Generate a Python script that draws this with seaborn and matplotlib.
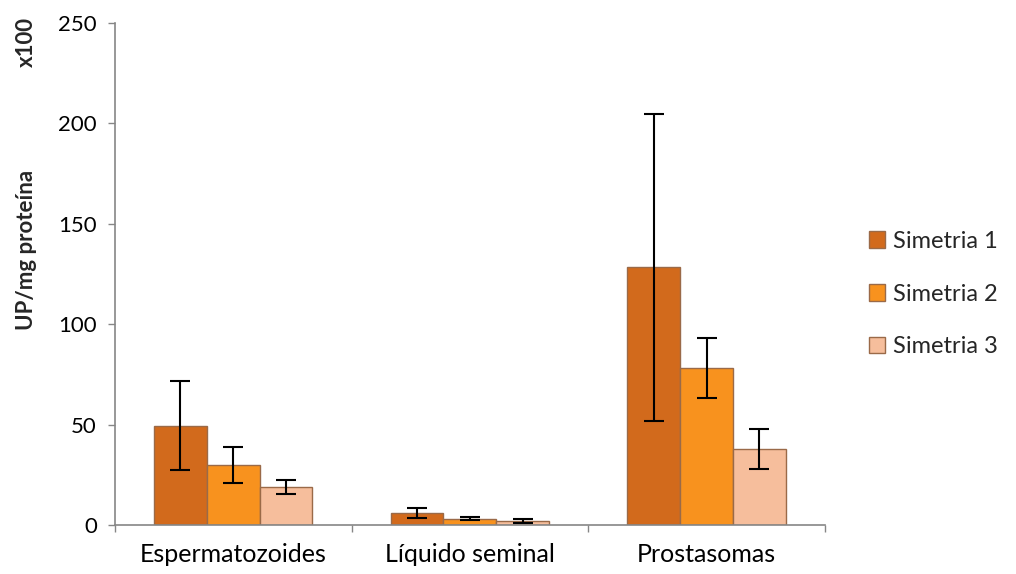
import pandas as pd
import matplotlib.pyplot as plt
import seaborn as sns

categories = ['Espermatozoides', 'Líquido seminal', 'Prostasomas']
series = ['Simetria 1', 'Simetria 2', 'Simetria 3']
means_s1 = [49.5, 6.0, 128.3]
means_s2 = [30.0, 3.2, 78.0]
means_s3 = [19.0, 2.0, 38.0]
err_s1 = [22.0, 2.7, 76.5]
err_s2 = [9.0, 0.7, 15.0]
err_s3 = [3.5, 0.8, 10.0]
colors = ['#D26A1C', '#F8921E', '#F6BE9C']

rows = []
for s, m, e in zip(series, [means_s1, means_s2, means_s3], [err_s1, err_s2, err_s3]):
    for c, v, er in zip(categories, m, e):
        rows.append({'cat': c, 'serie': s, 'value': v, 'err': er})
df = pd.DataFrame(rows)

sns.set_style('white')
plt.rcParams['font.family'] = ['Lato', 'DejaVu Sans']

fig = plt.figure(figsize=(10.16, 5.74), dpi=100)
ax = fig.add_axes([0.113, 0.0854, 0.699, 0.8746])

sns.barplot(data=df, x='cat', y='value', hue='serie', palette=colors, saturation=1,
            width=0.67, errorbar=None, edgecolor='#9A6A48', linewidth=1.0, ax=ax)

# error bars at bar centers
for patch, (_, r) in zip(ax.patches, df.iterrows()):
    xc = patch.get_x() + patch.get_width() / 2
    ax.errorbar(xc, r['value'], yerr=r['err'], fmt='none', ecolor='black',
                elinewidth=1.5, capsize=7, capthick=1.5)

ax.set_ylim(0, 250)
ax.set_xlim(-0.5, 2.5)
ax.set_yticks(range(0, 251, 50))
ax.set_xlabel('')
ax.set_ylabel('')
ax.tick_params(axis='both', colors='#868686', labelcolor='black')
ax.tick_params(axis='y', labelsize=16, length=5, width=1, direction='out', left=True, pad=8)
ax.tick_params(axis='x', labelsize=18, length=0, pad=13)
ax.set_xticks([-0.5, 0.5, 1.5, 2.5], minor=True)
ax.tick_params(axis='x', which='minor', length=5, width=1, direction='out', bottom=True, colors='#868686')
for side in ['top', 'right']:
    ax.spines[side].set_visible(False)
for side in ['left', 'bottom']:
    ax.spines[side].set_color('#868686')
    ax.spines[side].set_linewidth(1.2)

fig.text(0.026, 0.564, 'UP/mg proteína', rotation=90, fontsize=16, fontweight='bold',
         ha='center', va='center')
fig.text(0.026, 0.927, 'x100', rotation=90, fontsize=16, fontweight='bold',
         ha='center', va='center')

ax.legend(loc='center left', bbox_to_anchor=(1.032, 0.46), frameon=False, fontsize=17,
          handlelength=0.7, handleheight=0.7, handletextpad=0.3, labelspacing=1.35)

fig.savefig('out.png', dpi=100)
